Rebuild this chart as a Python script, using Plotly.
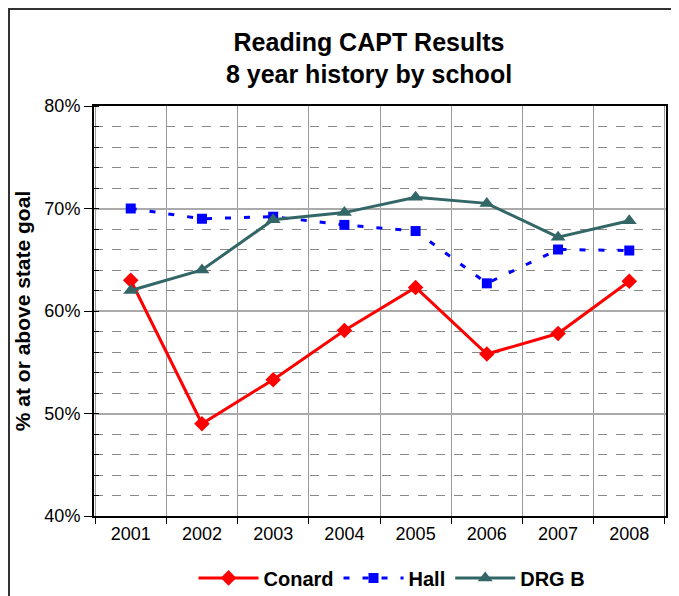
import plotly.graph_objects as go

years = ["2001", "2002", "2003", "2004", "2005", "2006", "2007", "2008"]
conard = [63.0, 49.0, 53.3, 58.1, 62.3, 55.8, 57.8, 62.9]
hall = [70.0, 69.0, 69.2, 68.4, 67.8, 62.7, 66.0, 65.9]
drg_b = [62.0, 64.0, 68.9, 69.6, 71.1, 70.5, 67.2, 68.8]

FONT = "Arial, Liberation Sans, sans-serif"

fig = go.Figure()
fig.add_trace(go.Scatter(
    x=years, y=conard, name="Conard", mode="lines+markers",
    line=dict(color="#FF0000", width=3),
    marker=dict(symbol="diamond", size=12, color="#FF0000"),
))
fig.add_trace(go.Scatter(
    x=years, y=hall, name="Hall", mode="lines+markers",
    line=dict(color="#0000FF", width=3, dash="6px,13px"),
    marker=dict(symbol="square", size=10, color="#0000FF"),
))
fig.add_trace(go.Scatter(
    x=years, y=drg_b, name="DRG B", mode="lines+markers",
    line=dict(color="#336666", width=3),
    marker=dict(symbol="triangle-up", size=13, color="#336666"),
))

# page body adds an 8px margin, so the figure is a bit smaller than the window
fig.update_layout(
    width=671, height=588,
    margin=dict(l=86, r=13, t=98, b=80, autoexpand=False),
    paper_bgcolor="white", plot_bgcolor="white",
    font=dict(family=FONT, size=18, color="black"),
    title=dict(
        text="<b>Reading CAPT Results<br>8 year history by school</b>",
        x=0.538, xanchor="center", y=0.927, yanchor="middle",
        font=dict(family=FONT, size=25, color="black"),
    ),
    showlegend=True,
    legend=dict(
        orientation="h", x=0.521, xanchor="center", y=-0.151, yanchor="middle",
        font=dict(family=FONT, size=20, color="black", weight="bold"),
        itemwidth=60, bgcolor="rgba(0,0,0,0)",
    ),
    shapes=[dict(
        type="rect", xref="paper", yref="paper",
        x0=-0.1486, x1=1.06, y0=-0.25, y1=1.2366,
        line=dict(color="#333333", width=2), layer="below",
    )],
)

fig.update_xaxes(
    type="category", tickson="boundaries", automargin=False,
    showgrid=True, gridcolor="#999999", gridwidth=1,
    showline=True, linecolor="black", linewidth=2, mirror=True,
    ticks="outside", ticklen=6, tickcolor="black",
    tickfont=dict(family=FONT, size=18),
)
fig.update_yaxes(
    range=[40, 80], dtick=10, ticksuffix="%", automargin=False,
    showgrid=True, gridcolor="#AAAAAA", gridwidth=1.5,
    showline=True, linecolor="black", linewidth=2, mirror=True,
    ticks="outside", ticklen=8, tickcolor="black",
    tickfont=dict(family=FONT, size=18),
    title=dict(text="<b>% at or above state goal</b>", standoff=8,
               font=dict(family=FONT, size=21)),
    minor=dict(dtick=2, ticks="inside", ticklen=5, tickcolor="black",
               showgrid=True, gridcolor="#888888", griddash="dash", gridwidth=1),
    zeroline=False,
)

fig.write_html("out.html")
